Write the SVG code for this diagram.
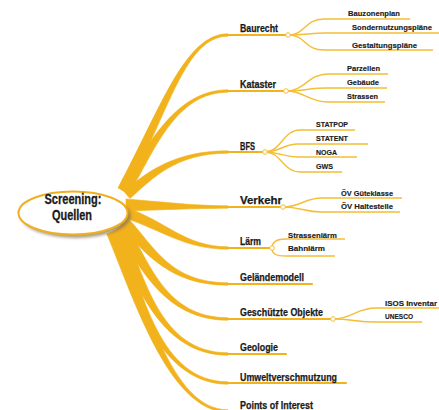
<svg xmlns="http://www.w3.org/2000/svg" width="439" height="410" viewBox="0 0 439 410">
<defs>
<style>
.br{fill:#F2B21C;stroke:#F2B21C;stroke-width:0.6}
.ul{fill:none;stroke:#F2B21C;stroke-width:2.2;stroke-linecap:round}
.sb{fill:none;stroke:#F4BE36;stroke-width:1.4}
.dot{fill:#ffffff;stroke:#F4BE36;stroke-width:1}
.m{font-family:"Liberation Sans Narrow","Liberation Sans",Arial,sans-serif;font-weight:bold;font-size:10.5px;fill:#1a1a1a;stroke:#1a1a1a;stroke-width:0.25}
.s{font-family:"Liberation Sans Narrow","Liberation Sans",Arial,sans-serif;font-weight:bold;font-size:8px;fill:#1a1a1a;stroke:#1a1a1a;stroke-width:0.15}
.c{font-family:"Liberation Sans Narrow","Liberation Sans",Arial,sans-serif;font-weight:bold;font-size:14px;fill:#1a1a1a;stroke:#1a1a1a;stroke-width:0.3;text-anchor:middle}
</style>
<filter id="sh" x="-20%" y="-20%" width="140%" height="160%"><feGaussianBlur stdDeviation="1.5"/></filter>
</defs>
<g id="connectors">
<path class="br" d="M118,187.9 C161,107.9 185,33.8 228,33.8 L228,36.2 C185,36.2 169,112.1 126,192.1 Z"/>
<path class="br" d="M121.1,189.7 C146.1,147.7 175,89.8 228,89.8 L228,92.2 C175,92.2 153.9,152.3 128.9,194.3 Z"/>
<path class="br" d="M124,191.6 C147,171.6 175,150.8 228,150.8 L228,153.2 C175,153.2 153,178.4 130,198.4 Z"/>
<path class="br" d="M126,199 C170,202.5 190,205.5 228,205.8 L228,208.2 C190,208.5 170,209.5 126,211 Z"/>
<path class="br" d="M127.6,208.3 C166.6,221.3 185,246.8 228,246.8 L228,249.2 C185,249.2 163.4,230.8 124.4,217.8 Z"/>
<path class="br" d="M128,218.3 C154,246.3 170,282.8 228,282.8 L228,285.2 C170,285.2 146,253.7 120,225.7 Z"/>
<path class="br" d="M125.7,223.1 C149.7,262.1 165,317.8 228,317.8 L228,320.2 C165,320.2 140.3,267.9 116.3,228.9 Z"/>
<path class="br" d="M123.1,226.8 C145.1,277.8 160,352.8 228,352.8 L228,355.2 C160,355.2 134.9,282.2 112.9,231.2 Z"/>
<path class="br" d="M120.2,229.2 C142.2,293.2 160,381.8 228,381.8 L228,384.2 C160,384.2 131.8,296.8 109.8,232.8 Z"/>
<path class="br" d="M117.1,229.9 C145.1,297.9 170,409.8 228,409.8 L228,412.2 C170,412.2 134.9,302.1 106.9,234.1 Z"/>
<path class="ul" d="M227,35 L288,35"/>
<path class="ul" d="M227,91 L286,91"/>
<path class="ul" d="M227,152 L265,152"/>
<path class="ul" d="M227,207 L283,207"/>
<path class="ul" d="M227,248 L272,248"/>
<path class="ul" d="M227,284 L312,284"/>
<path class="ul" d="M227,319 L333,319"/>
<path class="ul" d="M227,354 L286,354"/>
<path class="ul" d="M227,383 L346,383"/>
<path class="ul" d="M227,411 L318,411"/>
<path class="sb" d="M288,35 C306,35 304,19 324,19 L410,19"/>
<path class="sb" d="M288,35 C305,35 310,33 326,33 L439,33"/>
<path class="sb" d="M288,35 C306,35 304,50 324,50 L433,50"/>
<path class="sb" d="M286,91 C305,91 308,74 328,74 L388,74"/>
<path class="sb" d="M286,91 C303,91 310,88 326,88 L387,88"/>
<path class="sb" d="M286,91 C305,91 308,102 328,102 L385,102"/>
<path class="sb" d="M265,152 C281,152 283,130 300,130 L355,130"/>
<path class="sb" d="M265,152 C280,152 283,144 298,144 L368,144"/>
<path class="sb" d="M265,152 C280,152 284,157 298,157 L357,157"/>
<path class="sb" d="M265,152 C281,152 283,172 300,172 L342,172"/>
<path class="sb" d="M283,207 C301,207 304,198 322,198 L402,198"/>
<path class="sb" d="M283,207 C301,207 304,212 322,212 L400,212"/>
<path class="sb" d="M272,248 C272,242 276,239 286,239 L345,239"/>
<path class="sb" d="M272,248 C272,254 276,256 286,256 L335,256"/>
<path class="sb" d="M333,319 C352,319 356,308 376,308 L439,308"/>
<path class="sb" d="M333,319 C352,319 356,322 376,322 L422,322"/>
<circle class="dot" cx="288" cy="35" r="2.3"/>
<circle class="dot" cx="286" cy="91" r="2.3"/>
<circle class="dot" cx="265" cy="152" r="2.3"/>
<circle class="dot" cx="283" cy="207" r="2.3"/>
<circle class="dot" cx="272" cy="248" r="2.3"/>
<circle class="dot" cx="333" cy="319" r="2.3"/>
</g>
<g id="root">
<ellipse cx="76" cy="216" rx="55" ry="22" fill="#8a7350" opacity="0.7" filter="url(#sh)"/>
<ellipse cx="73" cy="213" rx="54.5" ry="21.5" fill="#ffffff" stroke="#F0AF1E" stroke-width="2"/>
<text class="c" x="73" y="204" textLength="57" lengthAdjust="spacingAndGlyphs">Screening:</text>
<text class="c" x="72" y="219.5" textLength="40" lengthAdjust="spacingAndGlyphs">Quellen</text>
</g>
<g id="baurecht">
<text class="m" x="240" y="32" textLength="38" lengthAdjust="spacingAndGlyphs">Baurecht</text>
<text class="s" x="348" y="16" textLength="52" lengthAdjust="spacingAndGlyphs">Bauzonenplan</text>
<text class="s" x="352" y="30" textLength="80" lengthAdjust="spacingAndGlyphs">Sondernutzungspläne</text>
<text class="s" x="352" y="47.5" textLength="65" lengthAdjust="spacingAndGlyphs">Gestaltungspläne</text>
</g>
<g id="kataster">
<text class="m" x="240" y="87.5" textLength="36" lengthAdjust="spacingAndGlyphs">Kataster</text>
<text class="s" x="347" y="71" textLength="33" lengthAdjust="spacingAndGlyphs">Parzellen</text>
<text class="s" x="347" y="85" textLength="32" lengthAdjust="spacingAndGlyphs">Gebäude</text>
<text class="s" x="347" y="99" textLength="31" lengthAdjust="spacingAndGlyphs">Strassen</text>
</g>
<g id="bfs">
<text class="m" x="240" y="149.5" textLength="15" lengthAdjust="spacingAndGlyphs">BFS</text>
<text class="s" x="316" y="127" textLength="32" lengthAdjust="spacingAndGlyphs">STATPOP</text>
<text class="s" x="316" y="141" textLength="32" lengthAdjust="spacingAndGlyphs">STATENT</text>
<text class="s" x="316" y="154.5" textLength="21" lengthAdjust="spacingAndGlyphs">NOGA</text>
<text class="s" x="316" y="168.5" textLength="17" lengthAdjust="spacingAndGlyphs">GWS</text>
</g>
<g id="verkehr">
<text class="m" x="240" y="204" textLength="42" lengthAdjust="spacingAndGlyphs">Verkehr</text>
<text class="s" x="341" y="195.5" textLength="52" lengthAdjust="spacingAndGlyphs">ÖV Güteklasse</text>
<text class="s" x="341" y="209" textLength="52" lengthAdjust="spacingAndGlyphs">ÖV Haltestelle</text>
</g>
<g id="laerm">
<text class="m" x="240" y="245" textLength="21" lengthAdjust="spacingAndGlyphs">Lärm</text>
<text class="s" x="288" y="237.5" textLength="49" lengthAdjust="spacingAndGlyphs">Strassenlärm</text>
<text class="s" x="288" y="251" textLength="37" lengthAdjust="spacingAndGlyphs">Bahnlärm</text>
</g>
<g id="gelaendemodell">
<text class="m" x="240" y="281" textLength="64" lengthAdjust="spacingAndGlyphs">Geländemodell</text>
</g>
<g id="geschuetzte">
<text class="m" x="240" y="316" textLength="83" lengthAdjust="spacingAndGlyphs">Geschützte Objekte</text>
<text class="s" x="385" y="305.5" textLength="52" lengthAdjust="spacingAndGlyphs">ISOS Inventar</text>
<text class="s" x="385" y="318.5" textLength="28" lengthAdjust="spacingAndGlyphs">UNESCO</text>
</g>
<g id="geologie">
<text class="m" x="240" y="351" textLength="38" lengthAdjust="spacingAndGlyphs">Geologie</text>
</g>
<g id="umwelt">
<text class="m" x="240" y="380.5" textLength="97" lengthAdjust="spacingAndGlyphs">Umweltverschmutzung</text>
</g>
<g id="poi">
<text class="m" x="240" y="409" textLength="73" lengthAdjust="spacingAndGlyphs">Points of Interest</text>
</g>
</svg>
